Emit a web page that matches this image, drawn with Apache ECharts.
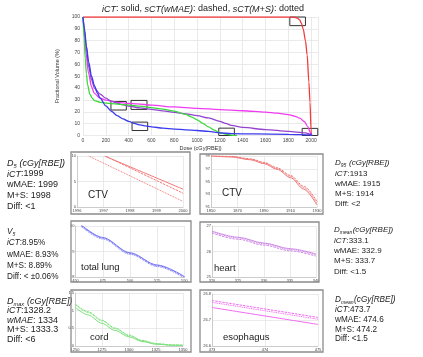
<!DOCTYPE html>
<html>
<head>
<meta charset="utf-8">
<script src="https://cdn.jsdelivr.net/npm/echarts@6/dist/echarts.min.js"></script>
<style>
html, body { margin: 0; padding: 0; background: #fff; }
#chart { width: 423px; height: 357px; }
</style>
</head>
<body>
<div id="chart"></div>
<script>
// main DVH curves, [dose cGy(RBE), volume %]
const ctvDVH = [[0,100],[1800,100],[1850,99.8],[1880,99],[1900,97.5],[1913,95],[1930,90],[1950,80],[1965,68],[1980,45],[1990,28],[1999,5],[2000,3.5],[2002,0]]
const esoDVH = [[0,100],[10,88],[25,70],[50,52],[75,41],[100,35.5],[150,31.5],[200,29.8],[300,28],[400,27],[474,26.7],[600,25.6],[800,24.1],[1000,22.9],[1200,21.9],[1400,20.9],[1600,19.7],[1700,18.8],[1800,17.6],[1860,16.2],[1900,14.6],[1940,11.8],[1970,7.5],[1990,3],[2002,0]]
const lungDVH = [[0,100],[15,88],[30,75],[50,62],[75,50],[100,42],[125,36],[150,31.5],[200,25],[250,20.3],[300,16.8],[350,14],[400,12],[457,10],[500,8.95],[548,8.05],[600,7.3],[700,6.2],[800,5.4],[900,4.8],[1000,4.2],[1100,3.4],[1200,2.2],[1300,1.6],[1500,1.3],[1800,1],[2000,0.6],[2010,0]]
const cordDVH = [[0,100],[10,82],[20,65],[30,52],[40,43],[60,35],[80,31.5],[100,29.5],[150,28],[200,27.3],[300,26.5],[400,25.7],[500,24.8],[600,23.6],[700,22.3],[800,20.6],[900,17.8],[950,15.8],[1000,13.2],[1050,10.3],[1100,7.2],[1150,4.5],[1200,2.3],[1250,1.15],[1275,0.68],[1300,0.28],[1330,0.04],[1350,0]]
const heartDVH = [[0,100],[10,92],[25,78],[50,58],[75,47],[100,40],[150,35],[200,31.5],[250,29],[300,27.4],[330,26.3],[400,24.8],[500,23.3],[600,22],[700,20.8],[800,19.5],[900,18.3],[1000,16.8],[1100,14.8],[1200,12],[1250,10.2],[1300,8.5],[1400,6.8],[1600,5],[1800,3.5],[1950,2.2],[2000,1],[2008,0]]

// zoom boxes on the main plot: [dose0, dose1, vol0, vol1]
const zoomBoxes = [[245,380,21.5,28.7],[421,561,22,29.6],[430,567,4.2,11.3],[1190,1327,-0.8,6.2],[1813,1950,92.7,100.4],[1921,2058,-0.8,6]]

// insets: solid = iCT, dashed = sCT(wMAE), dotted = sCT(M+S)
const ctvD5 = {
  solid: [[1997.04,10],[2000,3.5]],
  dashed: [[1997.1,9.9],[2000,2.7]],
  dotted: [[1996.44,10],[2000,1.1]]
}
const ctvD95 = {
  solid: [[1850,99.0],[1865,98.85],[1880,98.4],[1890,97.8],[1900,96.9],[1910,95.6],[1920,93.8],[1930,91.3]],
  dashed: [[1850,99.05],[1865,98.95],[1880,98.55],[1890,98.0],[1900,97.15],[1910,95.95],[1920,94.25],[1930,91.9]],
  dotted: [[1850,99.02],[1865,98.9],[1880,98.48],[1890,97.9],[1900,97.03],[1910,95.78],[1920,94.03],[1930,91.6]]
}
const lungV5 = {
  solid: [[455,10.05],[475,9.55],[500,8.95],[525,8.47],[550,8.02]],
  dashed: [[455,10.03],[475,9.53],[500,8.93],[525,8.45],[550,8.0]],
  dotted: [[455,9.99],[475,9.49],[500,8.89],[525,8.41],[550,7.96]]
}
const heartMean = {
  solid: [[320,26.8],[325,26.56],[330,26.33],[335,26.11],[340,25.9]],
  dashed: [[320,26.72],[325,26.48],[330,26.25],[335,26.03],[340,25.82]],
  dotted: [[320,26.77],[325,26.53],[330,26.3],[335,26.08],[340,25.87]]
}
const cordMax = {
  solid: [[1250,1.1],[1262,0.88],[1275,0.64],[1287,0.44],[1300,0.26],[1312,0.13],[1325,0.05],[1340,0.02],[1350,0.02]],
  dashed: [[1250,1.2],[1262,0.97],[1275,0.73],[1287,0.51],[1300,0.31],[1312,0.16],[1325,0.07],[1340,0.03],[1350,0.02]],
  dotted: [[1250,1.18],[1262,0.95],[1275,0.71],[1287,0.49],[1300,0.29],[1312,0.15],[1325,0.06],[1340,0.03],[1350,0.02]]
}
const esoMean = {
  solid: [[473,26.748],[475,26.683]],
  dashed: [[473,26.775],[475,26.71]],
  dotted: [[473,26.768],[475,26.703]]
}

// axis ranges: [xmin, xmax, xstep, ymin, ymax, ystep]
const axisRanges = [
  [0, 2060, 200, 0, 100, 10],
  [1996, 2000, 1, 0, 10, 5],
  [1850, 1930, 20, 91, 99, 2],
  [450, 550, 25, 8, 10, 1],
  [320, 340, 5, 25, 27, 1],
  [1250, 1350, 25, 0, 1.5, 0.5],
  [473, 475, 1, 26.6, 26.8, 0.1]
]

const panelLabels = ['CTV', 'CTV', 'total lung', 'heart', 'cord', 'esophagus']

const textBlocks = [
  ['{i|D}{sub|5}{i| (cGy[RBE])}', '{i|iCT}:1999', 'wMAE: 1999', 'M+S: 1998', 'Diff: <1'],
  ['{i|D}{sub|95}{i| (cGy[RBE])}', '{i|iCT}:1913', 'wMAE: 1915', 'M+S: 1914', 'Diff: <2'],
  ['{i|V}{sub|5}', '{i|iCT}:8.95%', 'wMAE: 8.93%', 'M+S: 8.89%', 'Diff: < ±0.06%'],
  ['{i|D}{sub|mean}{i|(cGy[RBE])}', '{i|iCT}:333.1', 'wMAE: 332.9', 'M+S: 333.7', 'Diff: <1.5'],
  ['{i|D}{sub|max}{i| (cGy[RBE])}', '{i|iCT}:1328.2', '{i|wMAE}: 1334', 'M+S: 1333.3', 'Diff: <6'],
  ['{i|D}{sub|mean}{i|(cGy[RBE])}', '{i|iCT}:473.7', 'wMAE: 474.6', 'M+S: 474.2', 'Diff: <1.5']
]

const FONT = '"Liberation Sans", Arial, sans-serif'

const grids = [
  { left: 83, top: 17, width: 235, height: 118.5 },
  { left: 77, top: 156, width: 106, height: 51 },
  { left: 211, top: 156, width: 106, height: 51 },
  { left: 75.5, top: 226, width: 109, height: 51 },
  { left: 212, top: 226, width: 104, height: 51 },
  { left: 75, top: 293, width: 108, height: 53 },
  { left: 212, top: 294, width: 106, height: 52 }
]
const boxes = [[71,152,119,62],[200,154,123,60],[71,221,120,61],[200,222,119,60],[71,290,120,62],[200,290,123,62]]
const labelPos = [[88,195,10],[222,193,10],[81,267,9.5],[214,268,9.5],[90,337,9.5],[223,337,9.5]]
const blockPos = [[7,163,11,9],[335,163,10.3,8],[7,232,11.2,8.2],[334,230,10.4,8],[7,301,9.6,9],[335,300,9.8,8.2]]

const plain = v => String(Math.round(v * 1000) / 1000)

const xAxes = [], yAxes = []
axisRanges.forEach((r, i) => {
  const main = i === 0
  const fs = main ? 5 : 4
  xAxes.push({
    type: 'value', gridIndex: i, min: r[0], max: r[1], interval: r[2],
    name: main ? 'Dose (cGy[RBE])' : '', nameLocation: 'middle', nameGap: 10,
    nameTextStyle: { fontSize: 5.5, color: '#333', fontFamily: FONT },
    axisLine: { show: !main, lineStyle: { color: '#ccc' } },
    axisTick: { show: false },
    axisLabel: { fontSize: fs, color: '#444', margin: main ? 3 : 2, showMaxLabel: !main, fontFamily: FONT, formatter: plain },
    splitLine: { lineStyle: { color: '#e4e4e4', width: 0.8 } }
  })
  yAxes.push({
    type: 'value', gridIndex: i, min: r[3], max: r[4], interval: r[5],
    name: main ? 'Fractional Volume (%)' : '', nameLocation: 'middle', nameGap: 13,
    nameTextStyle: { fontSize: 5.5, color: '#333', fontFamily: FONT },
    axisLine: { show: !main, lineStyle: { color: '#ccc' } },
    axisTick: { show: false },
    axisLabel: { fontSize: fs, color: '#444', margin: main ? 3 : 1, fontFamily: FONT, formatter: plain },
    splitLine: { lineStyle: { color: '#e4e4e4', width: 0.8 } }
  })
})

function line(data, gi, color, type, width, smooth) {
  return {
    type: 'line', xAxisIndex: gi, yAxisIndex: gi, data: data,
    symbol: 'none', silent: true, smooth: smooth, smoothMonotone: 'x',
    lineStyle: { color: color, width: width, type: type }
  }
}

const series = [
  line(ctvDVH, 0, '#f23a3a', 'solid', 1.3, 0.3),
  line(esoDVH, 0, '#f03cf0', 'solid', 1.3, 0.3),
  line(heartDVH, 0, '#9444d0', 'solid', 1.3, 0.3),
  line(cordDVH, 0, '#3ada3a', 'solid', 1.3, 0.3),
  line(lungDVH, 0, '#3a3aee', 'solid', 1.3, 0.3)
]
series[4].markArea = {
  silent: true,
  itemStyle: { color: 'rgba(0,0,0,0)', borderColor: '#333', borderWidth: 1 },
  data: zoomBoxes.map(b => [{ coord: [b[0], b[3]] }, { coord: [b[1], b[2]] }])
}

const insetSets = [
  [ctvD5, '#f07a7a'], [ctvD95, '#f07a7a'], [lungV5, '#7a7af2'],
  [heartMean, '#cf8ae6'], [cordMax, '#7ae07a'], [esoMean, '#f06af0']
]
insetSets.forEach((s, k) => {
  const gi = k + 1
  series.push(line(s[0].solid, gi, s[1], 'solid', 1, 0.3))
  series.push(line(s[0].dashed, gi, s[1], [2.5, 1], 1, 0.3))
  series.push(line(s[0].dotted, gi, s[1], [1, 0.8], 1, 0.3))
})

const graphic = []
graphic.push({
  type: 'text', x: 203, y: 9,
  style: {
    text: '{i|iCT}: solid, {i|sCT(wMAE)}: dashed, {i|sCT(M+S)}: dotted',
    fontSize: 9, fontFamily: FONT, fill: '#222', align: 'center', verticalAlign: 'middle',
    rich: { i: { fontStyle: 'italic', fontSize: 9, fontFamily: FONT, fill: '#222' } }
  }
})
boxes.forEach(b => {
  graphic.push({
    type: 'rect', shape: { x: b[0], y: b[1], width: b[2], height: b[3] },
    style: { fill: 'none', stroke: '#8c8c8c', lineWidth: 1.3 }, silent: true, z: 10
  })
})
panelLabels.forEach((t, k) => {
  const p = labelPos[k]
  graphic.push({
    type: 'text', x: p[0], y: p[1],
    style: { text: t, fontSize: p[2], fontFamily: FONT, fill: '#222', verticalAlign: 'middle' }, z: 11
  })
})
textBlocks.forEach((lines, k) => {
  const p = blockPos[k]
  lines.forEach((t, j) => {
    const fs = p[3]
    graphic.push({
      type: 'text', x: p[0], y: p[1] + j * p[2],
      style: {
        text: t, fontSize: fs, fontFamily: FONT, fill: '#222', verticalAlign: 'middle',
        rich: {
          i: { fontStyle: 'italic', fontSize: fs, fontFamily: FONT, fill: '#222', lineHeight: fs + 2 },
          sub: { fontStyle: 'italic', fontSize: fs * 0.62, fontFamily: FONT, fill: '#222', lineHeight: fs * 0.62, padding: [6, 0.5, 0, 0] }
        }
      }
    })
  })
})

const chart = echarts.init(document.getElementById('chart'))
chart.setOption({
  animation: false,
  backgroundColor: '#fff',
  grid: grids.map(g => Object.assign({ show: false }, g)),
  xAxis: xAxes,
  yAxis: yAxes,
  series: series,
  graphic: graphic
})
</script>
</body>
</html>
